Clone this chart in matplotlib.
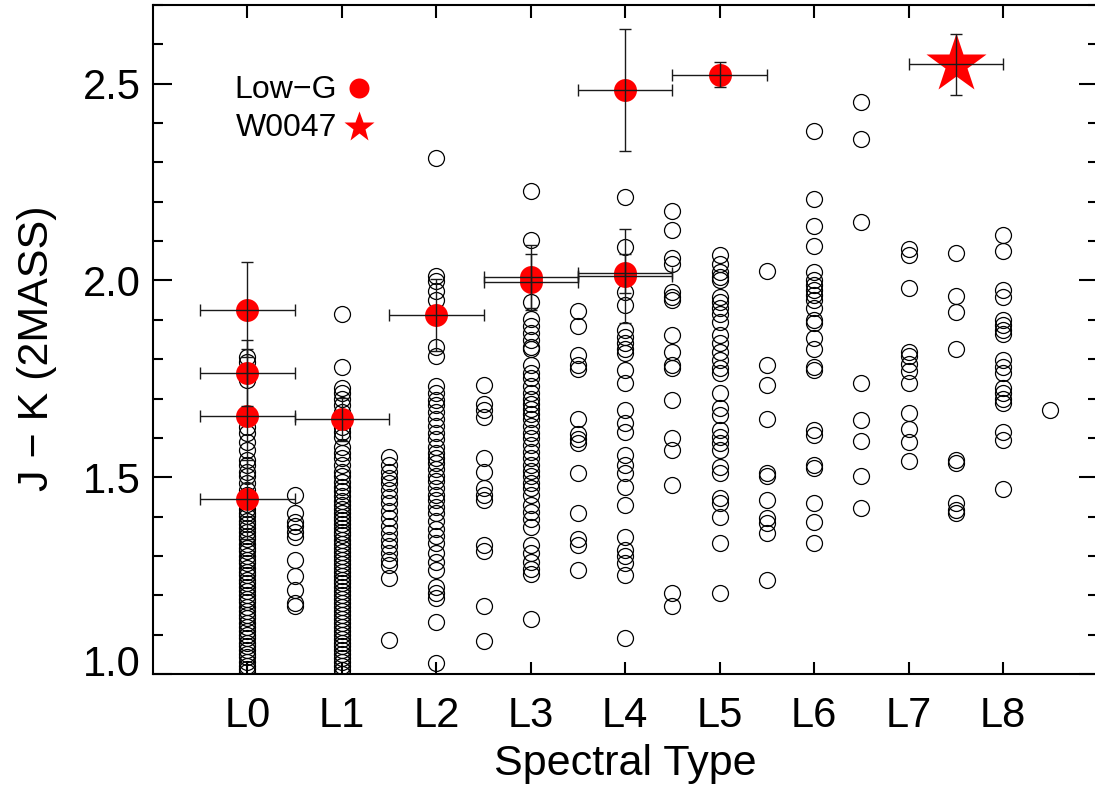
import matplotlib
matplotlib.use("Agg")
import matplotlib.pyplot as plt
from matplotlib.ticker import MultipleLocator
from matplotlib.transforms import ScaledTranslation

plt.rcParams['font.family'] = ['Liberation Sans', 'DejaVu Sans']

# ---------------- data ----------------
tick_pos = [0, 1, 2, 3, 4, 5, 6, 7, 8]
tick_labels = ["L0", "L1", "L2", "L3", "L4", "L5", "L6", "L7", "L8"]

# field objects: J-K (2MASS) per spectral subtype
jk_L0 = [1.806, 1.793, 1.747, 1.628, 1.612, 1.590, 1.569, 1.544, 1.531, 1.514, 1.502,
         1.485, 1.468, 1.455, 1.440, 1.432, 1.420, 1.410, 1.402, 1.390, 1.380, 1.372,
         1.360, 1.350, 1.343, 1.330, 1.320, 1.312, 1.300, 1.290, 1.283, 1.270, 1.260,
         1.252, 1.240, 1.230, 1.222, 1.210, 1.200, 1.190, 1.182, 1.170, 1.160, 1.150,
         1.142, 1.130, 1.120, 1.110, 1.100, 1.092, 1.080, 1.070, 1.060, 1.050, 1.042,
         1.030, 1.020, 1.012, 1.005]
jk_L05 = [1.455, 1.409, 1.387, 1.375, 1.362, 1.349, 1.290, 1.248, 1.214, 1.180, 1.172]
jk_L1 = [1.916, 1.781, 1.726, 1.713, 1.700, 1.683, 1.667, 1.628, 1.616, 1.603, 1.578,
         1.561, 1.548, 1.531, 1.514, 1.502, 1.489, 1.476, 1.465, 1.452, 1.440, 1.430,
         1.420, 1.410, 1.400, 1.392, 1.382, 1.370, 1.360, 1.352, 1.340, 1.330, 1.320,
         1.310, 1.300, 1.290, 1.280, 1.270, 1.260, 1.250, 1.240, 1.232, 1.220, 1.210,
         1.200, 1.190, 1.180, 1.170, 1.160, 1.150, 1.140, 1.130, 1.120, 1.110, 1.100,
         1.090, 1.080, 1.070, 1.060, 1.050, 1.040, 1.030, 1.020, 1.010, 1.000]
jk_L15 = [1.552, 1.531, 1.514, 1.497, 1.485, 1.468, 1.451, 1.434, 1.413, 1.396, 1.375,
          1.358, 1.341, 1.324, 1.307, 1.290, 1.277, 1.244, 1.087]
jk_L2 = [2.312, 2.011, 1.998, 1.972, 1.950, 1.832, 1.807, 1.731, 1.714, 1.696, 1.683,
         1.666, 1.648, 1.631, 1.613, 1.596, 1.578, 1.561, 1.548, 1.535, 1.521, 1.504,
         1.491, 1.473, 1.456, 1.443, 1.425, 1.408, 1.390, 1.368, 1.351, 1.333, 1.307,
         1.285, 1.264, 1.220, 1.207, 1.194, 1.132, 1.028]
jk_L25 = [1.734, 1.687, 1.670, 1.652, 1.548, 1.513, 1.473, 1.456, 1.443, 1.329, 1.312,
          1.172, 1.084]
jk_L3 = [2.228, 2.103, 1.945, 1.902, 1.884, 1.867, 1.849, 1.832, 1.827, 1.784, 1.766,
         1.753, 1.731, 1.714, 1.700, 1.687, 1.674, 1.661, 1.648, 1.631, 1.613, 1.600,
         1.583, 1.565, 1.548, 1.530, 1.517, 1.504, 1.486, 1.473, 1.456, 1.430, 1.412,
         1.395, 1.373, 1.329, 1.307, 1.285, 1.268, 1.255, 1.141]
jk_L35 = [1.922, 1.884, 1.810, 1.784, 1.775, 1.648, 1.609, 1.596, 1.587, 1.510, 1.410,
          1.342, 1.329, 1.264]
jk_L4 = [2.212, 2.085, 1.971, 1.937, 1.874, 1.857, 1.840, 1.827, 1.815, 1.772, 1.739,
         1.671, 1.637, 1.616, 1.557, 1.531, 1.510, 1.476, 1.430, 1.349, 1.315, 1.299,
         1.282, 1.252, 1.091]
jk_L45 = [2.177, 2.129, 2.056, 2.043, 1.971, 1.958, 1.950, 1.861, 1.819, 1.785, 1.777,
          1.696, 1.599, 1.569, 1.480, 1.205, 1.172]
jk_L5 = [2.064, 2.043, 2.022, 2.009, 2.001, 1.958, 1.946, 1.929, 1.916, 1.895, 1.861,
         1.840, 1.819, 1.798, 1.777, 1.764, 1.713, 1.675, 1.658, 1.620, 1.603, 1.586,
         1.569, 1.527, 1.510, 1.447, 1.434, 1.400, 1.332, 1.205]
jk_L55 = [2.024, 1.785, 1.734, 1.647, 1.510, 1.503, 1.442, 1.396, 1.383, 1.358, 1.239]
jk_L6 = [2.381, 2.206, 2.138, 2.087, 2.022, 2.001, 1.988, 1.975, 1.963, 1.950, 1.929,
         1.899, 1.891, 1.853, 1.827, 1.781, 1.772, 1.620, 1.607, 1.531, 1.523, 1.434,
         1.387, 1.332]
jk_L65 = [2.453, 2.360, 2.149, 1.739, 1.645, 1.593, 1.503, 1.421]
jk_L7 = [2.081, 2.064, 1.982, 1.819, 1.808, 1.789, 1.770, 1.739, 1.664, 1.622, 1.590,
         1.540]
jk_L75 = [2.071, 1.961, 1.920, 1.827, 1.544, 1.535, 1.434, 1.417, 1.409]
jk_L8 = [2.115, 2.075, 1.975, 1.958, 1.899, 1.886, 1.874, 1.865, 1.798, 1.781, 1.764,
         1.726, 1.713, 1.700, 1.688, 1.616, 1.595, 1.469]
jk_L85 = [1.671]

field_spt = [0, 0.5, 1, 1.5, 2, 2.5, 3, 3.5, 4, 4.5, 5, 5.5, 6, 6.5, 7, 7.5, 8, 8.5]
field_jk = [jk_L0, jk_L05, jk_L1, jk_L15, jk_L2, jk_L25, jk_L3, jk_L35, jk_L4, jk_L45,
            jk_L5, jk_L55, jk_L6, jk_L65, jk_L7, jk_L75, jk_L8, jk_L85]

# low-gravity objects
lowg_spt = [0, 0, 0, 0, 1, 2, 3, 3, 4, 4, 4, 5]
lowg_jk = [1.926, 1.764, 1.656, 1.444, 1.647, 1.913, 1.996, 2.009, 2.483, 2.012, 2.018, 2.523]
lowg_jk_err = [0.12, 0.084, 0.171, 0.10, 0.055, 0.092, 0.07, 0.08, 0.155, 0.12, 0.05, 0.032]
lowg_spt_err = [0.5] * 12

# W0047
w0047_spt = [7.5]
w0047_jk = [2.549]
w0047_jk_err = [0.077]
w0047_spt_err = [0.5]

# ---------------- plot ----------------
W, H = 1095, 793
fig = plt.figure(figsize=(W / 100, H / 100), dpi=100)
ax = fig.add_axes([153 / W, 1 - 674 / H, (1097.5 - 153) / W, (674 - 5) / H])

xs, ys = [], []
for s, vals in zip(field_spt, field_jk):
    xs.extend([s] * len(vals))
    ys.extend(vals)
ax.plot(xs, ys, 'o', mfc='none', mec='black', ms=11.5, mew=0.9, ls='none', zorder=2)

ax.plot(lowg_spt, lowg_jk, 'o', color='red', mec='none', ms=16.5, ls='none', zorder=3)
ax.plot(w0047_spt, w0047_jk, '*', color='red', mec='none', ms=45, ls='none', zorder=3)

ax.errorbar(lowg_spt, lowg_jk, xerr=lowg_spt_err, yerr=lowg_jk_err, fmt='none',
            ecolor='#1a1a1a', elinewidth=1.0, capsize=4, capthick=1.0, zorder=4)
ax.errorbar(w0047_spt, w0047_jk, xerr=w0047_spt_err, yerr=w0047_jk_err, fmt='none',
            ecolor='#1a1a1a', elinewidth=1.0, capsize=4, capthick=1.0, zorder=4)

ax.set_xlim(-1, 9)
ax.set_ylim(1.0, 2.7)
ax.set_xticks(tick_pos)
ax.set_xticklabels(tick_labels)
ax.set_yticks([1.0, 1.5, 2.0, 2.5])
ax.set_yticklabels(["1.0", "1.5", "2.0", "2.5"])
ax.yaxis.set_minor_locator(MultipleLocator(0.1))

for sp in ax.spines.values():
    sp.set_linewidth(1.5)
ax.tick_params(axis='both', which='both', direction='in', top=True, right=True, width=1.5)
ax.tick_params(axis='x', which='major', length=9, pad=16, labelsize=30)
ax.tick_params(axis='y', which='major', length=14, pad=9, labelsize=30)
ax.tick_params(axis='y', which='minor', length=7)

# lift the lowest y tick label so it sits above the x axis line
lbl0 = ax.get_yticklabels()[0]
lbl0.set_transform(lbl0.get_transform() + ScaledTranslation(0, 14 / 100, fig.dpi_scale_trans))

ax.set_xlabel("Spectral Type", fontsize=31)
ax.set_ylabel("J \u2212 K (2MASS)", fontsize=31)
ax.xaxis.set_label_coords(0.5, -0.104)
ax.yaxis.set_label_coords(-0.1017, 0.487)

# legend (manual)
ax.text(0.1948, 0.8614, "Low\u2212G", transform=ax.transAxes, ha='right', va='baseline', fontsize=23)
ax.text(0.1948, 0.8042, "W0047", transform=ax.transAxes, ha='right', va='baseline', fontsize=23)
ax.plot([0.2178], [0.8755], 'o', color='red', mec='none', ms=14.4, transform=ax.transAxes, clip_on=False)
ax.plot([0.2178], [0.818], '*', color='red', mec='none', ms=22.7, transform=ax.transAxes, clip_on=False)

fig.savefig("out.png", dpi=100)
